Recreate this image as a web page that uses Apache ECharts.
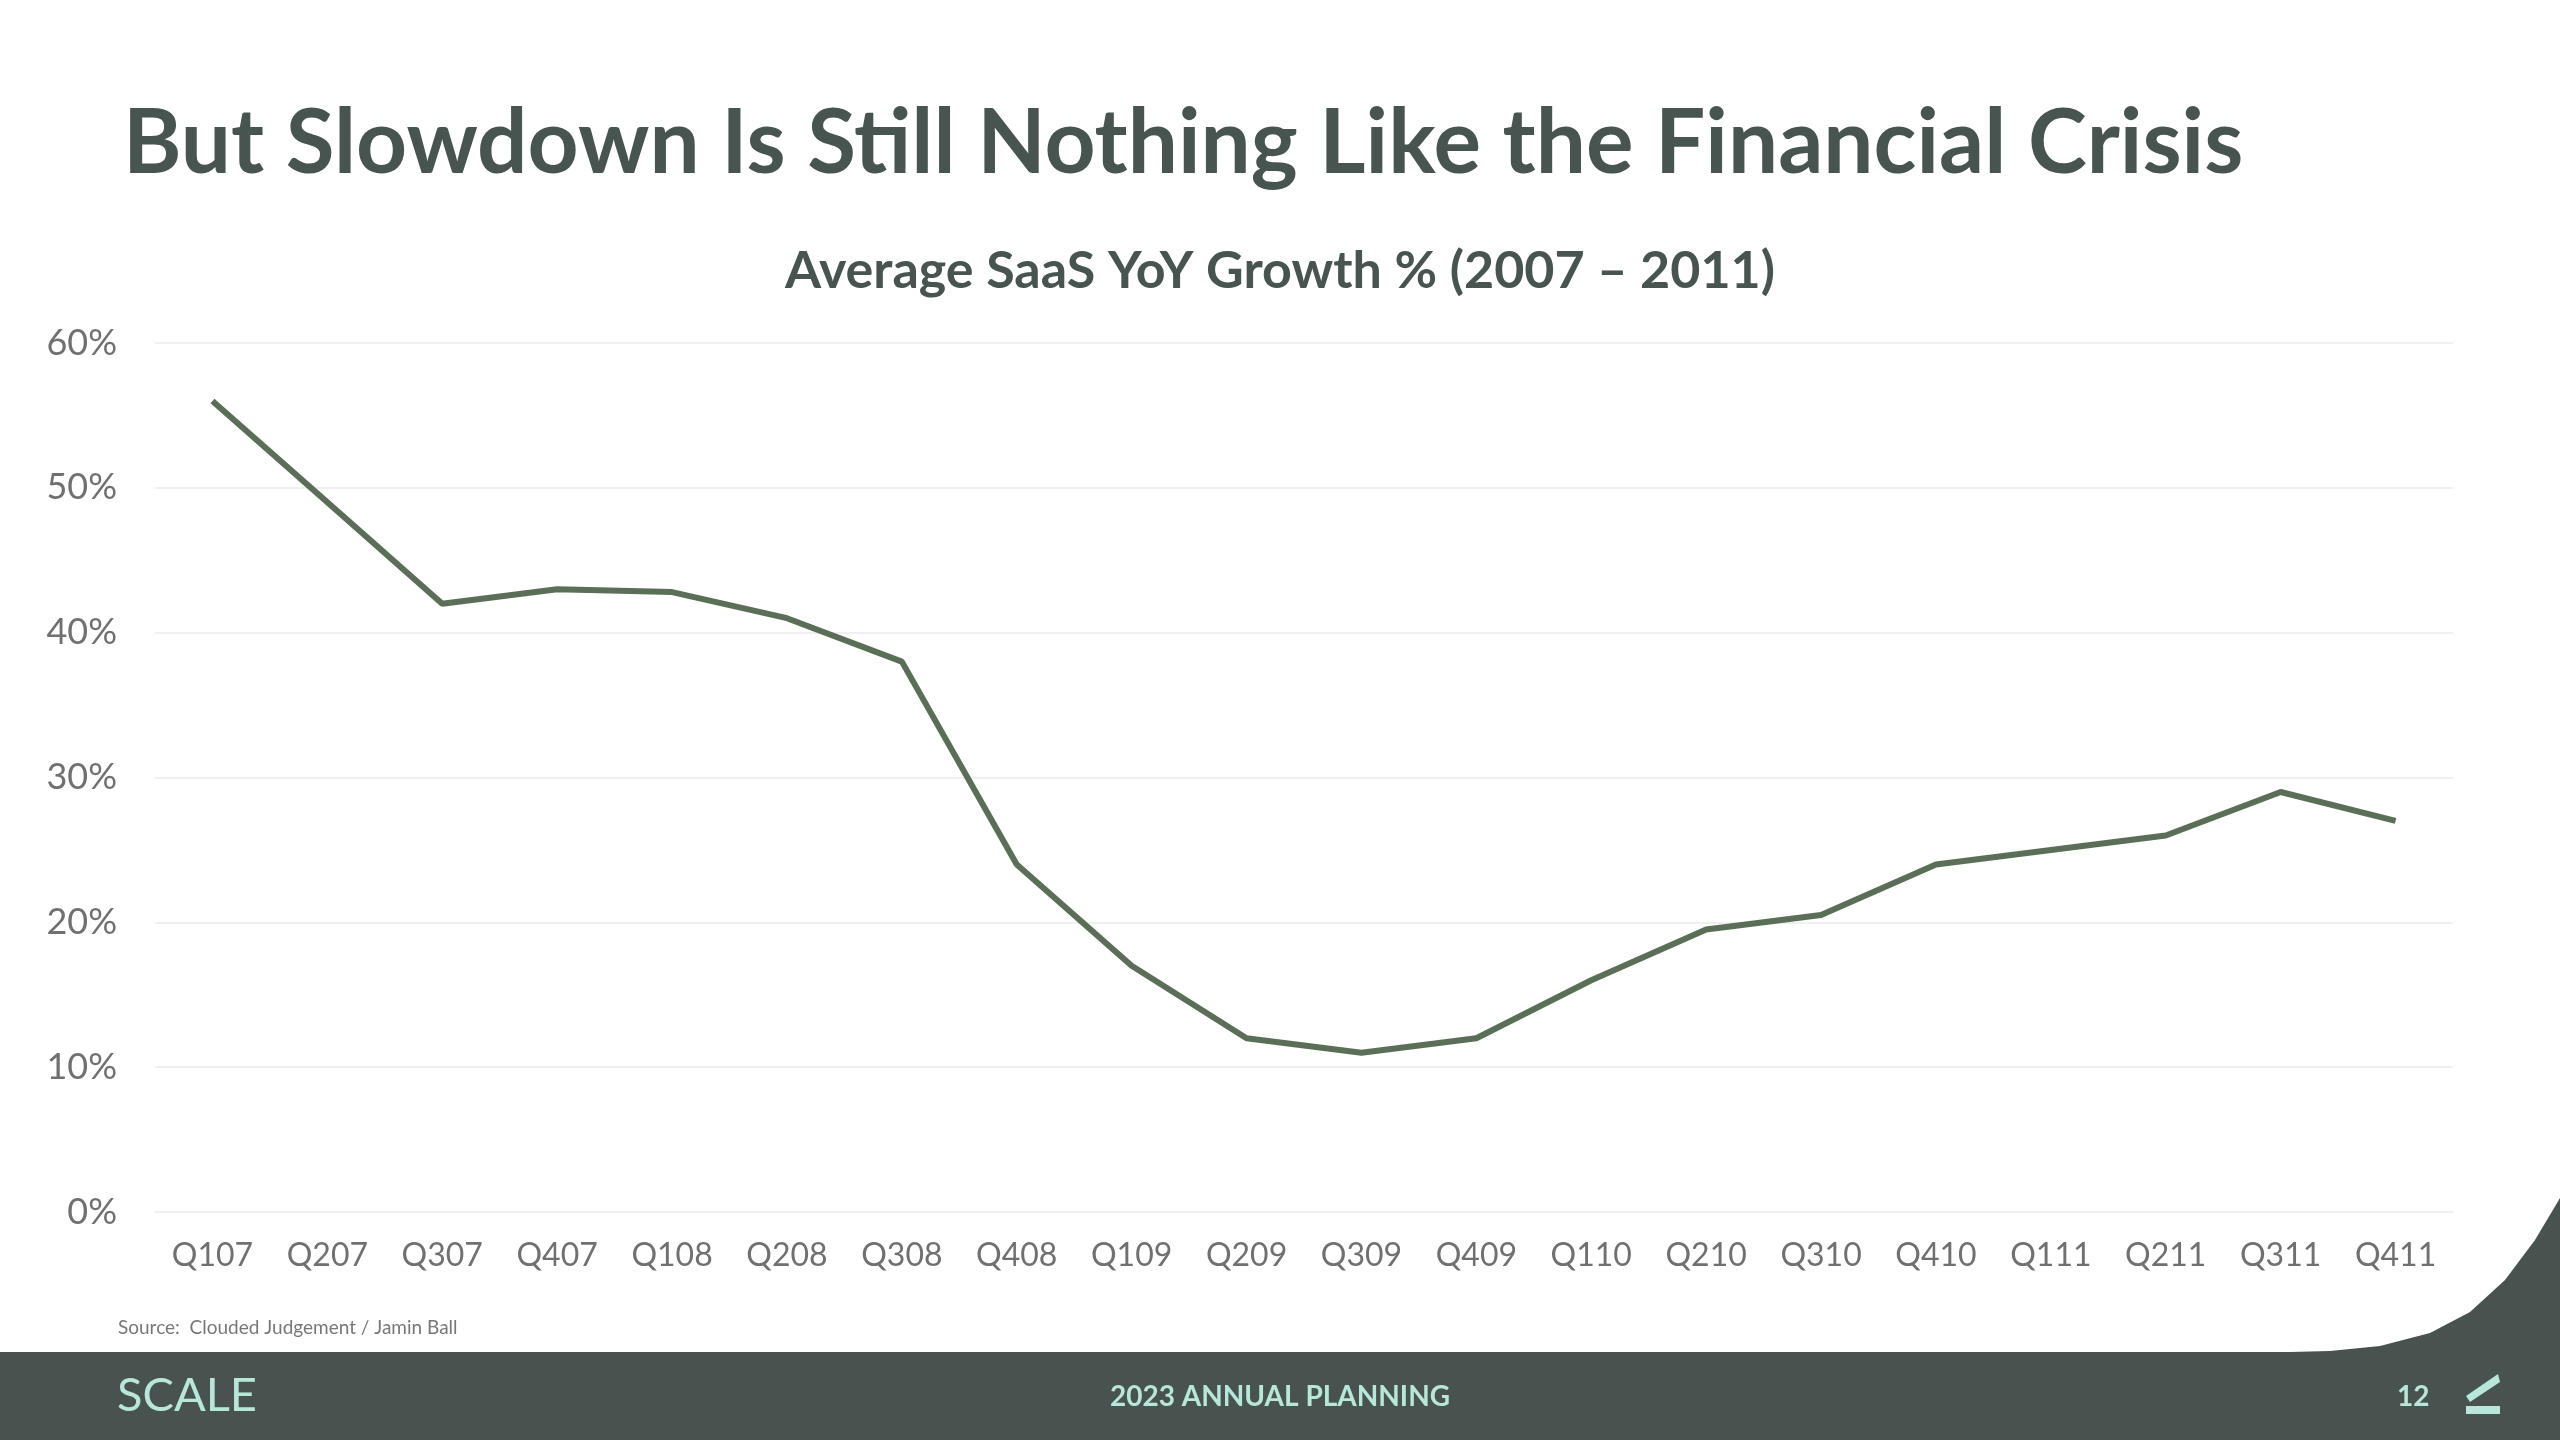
<!DOCTYPE html><html><head><meta charset="utf-8"><script src="https://cdn.jsdelivr.net/npm/echarts@6/dist/echarts.min.js"></script>
<style>html,body{margin:0;padding:0;background:#fff}#c{width:2560px;height:1440px}</style></head><body><div id="c"></div><script>
const categories=['Q107','Q207','Q307','Q407','Q108','Q208','Q308','Q408','Q109','Q209','Q309','Q409','Q110','Q210','Q310','Q410','Q111','Q211','Q311','Q411'];
const growth=[56,49,42,43,42.8,41,38,24,17,12,11,12,16,19.5,20.5,24,25,26,29,27];
const chart=echarts.init(document.getElementById('c'));
chart.setOption({
 backgroundColor:'#fff',
 title:[{text:'But Slowdown Is Still Nothing Like the Financial Crisis',left:118,top:95,textStyle:{fontFamily:'Lato',fontWeight:'bold',fontSize:89,color:'#485450'}},
  {text:'Average SaaS YoY Growth % (2007 – 2011)',left:'center',top:240,textStyle:{fontFamily:'Lato',fontWeight:'bold',fontSize:52,color:'#485450'}}],
 grid:{left:155,right:107,top:343,bottom:228},
 xAxis:{type:'category',data:categories,boundaryGap:true,axisLine:{show:false},axisTick:{show:false},axisLabel:{fontFamily:'Lato',fontSize:32,color:'#707070',margin:28}},
 yAxis:{type:'value',min:0,max:60,interval:10,axisLabel:{formatter:'{value}%',fontFamily:'Lato',fontSize:36,color:'#707070',margin:38},splitLine:{lineStyle:{color:'#f0f0f0',width:2}}},
 series:[{type:'line',data:growth,symbol:'none',lineStyle:{color:'#5b6e58',width:6}}],
 graphic:[
  {type:'rect',shape:{x:0,y:1352,width:2560,height:88},style:{fill:'#48524f'}},
  {type:'polygon',shape:{points:[[2560,1198],[2535,1240],[2505,1280],[2470,1312],[2430,1333],[2380,1346],[2330,1351],[2290,1352],[2560,1352]]},style:{fill:'#48524f'}},
  {type:'text',left:118,top:1318,style:{text:'Source:  Clouded Judgement / Jamin Ball',fontFamily:'Lato',fontSize:19,fill:'#777'}},
  {type:'text',left:117,top:1372,style:{text:'SCALE',fontFamily:'Lato',fontSize:47,fill:'#b8e6d8'}},
  {type:'text',left:'center',top:1383,style:{text:'2023 ANNUAL PLANNING',fontFamily:'Lato',fontWeight:'bold',fontSize:28,fill:'#b8e6d8'}},
  {type:'text',left:2397,top:1383,style:{text:'12',fontFamily:'Lato',fontWeight:'bold',fontSize:28,fill:'#b8e6d8'}},
  {type:'rect',shape:{x:2466,y:1406,width:34,height:8},style:{fill:'#b8e6d8'}},
  {type:'polygon',shape:{points:[[2466,1396],[2498,1374],[2500,1382],[2470,1402]]},style:{fill:'#b8e6d8'}}
 ]
});
</script></body></html>
